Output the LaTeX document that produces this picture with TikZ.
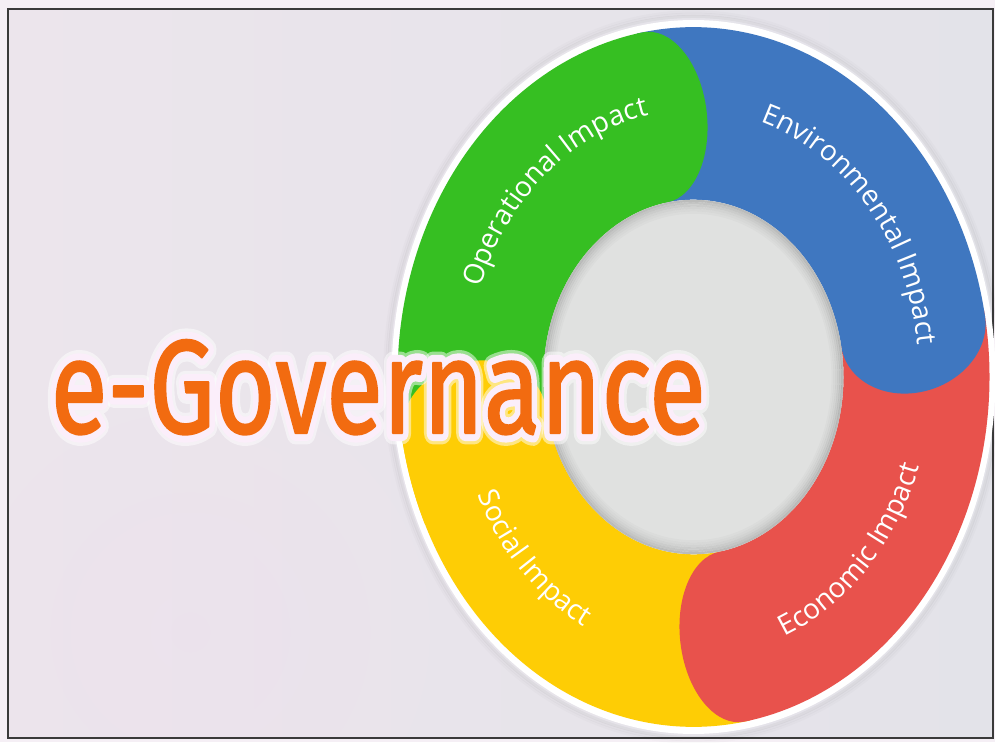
\documentclass[tikz,border=0pt]{standalone}
\usepackage{fontspec}
\setmainfont{Open Sans}
\newfontfamily\titlefont{Fira Sans}[FakeBold=1.6]
\newfontfamily\halofont{Fira Sans}[FakeBold=12]
\newfontfamily\haloouterfont{Fira Sans}[FakeBold=17]
\newfontfamily\labelfont{Open Sans}
\usetikzlibrary{decorations.text,calc}

\definecolor{paperEdge}{HTML}{F5EFF5}
\definecolor{bgA}{HTML}{ECE5EC}
\definecolor{bgB}{HTML}{E3E3E9}
\definecolor{bgPink}{HTML}{EFDFEF}
\definecolor{segGreen}{HTML}{36BF22}
\definecolor{segBlue}{HTML}{3F77C0}
\definecolor{segRed}{HTML}{E8524C}
\definecolor{segYellow}{HTML}{FECD05}
\definecolor{hubGray}{HTML}{E0E1E0}
\definecolor{titleOrange}{HTML}{F26B10}
\definecolor{glowPink}{HTML}{FBEEFA}
\definecolor{frameGray}{HTML}{3A3A3A}

% label font along the ring
\newcommand\labelstyle{\labelfont\fontsize{28}{34}\selectfont}
% the big title, squeezed horizontally by a common factor; #1 is the font switch
\newlength\govnatural
\newcommand\govword[1]{\scalebox{\govratio}[1]{#1\fontsize{133}{140}\selectfont e-Governance}}
% round joins for the stroked halo outlines
\newcommand\roundjoins{\special{pdf:literal direct 1 j 1 J}}

% one band of the ring: #1 colour, #2 angle of the rounded end, #3 angular length
\newcommand\ringseg[3]{%
  \begin{scope}[rotate=#2]
    \fill[#1] (#3:296) arc[start angle=#3, end angle=0, radius=296]
      .. controls (296,-28.7) and (263.3,-52) .. (223,-52)
      .. controls (182.7,-52) and (150,-28.7) .. (150,0)
      arc[start angle=0, end angle=#3, radius=150] -- cycle;
  \end{scope}}

\begin{document}
\settowidth{\govnatural}{\titlefont\fontsize{133}{140}\selectfont e-Governance}
\pgfmathsetmacro\govratio{655pt/\govnatural}
\begin{tikzpicture}[x=1pt,y=1pt,
  seglabel/.style={decorate, decoration={text along path, text align=center, text color=white}}]

\useasboundingbox (0,0) rectangle (995,742);

% paper and framed panel
\fill[paperEdge] (0,0) rectangle (995,742);
\begin{scope}
  \clip (8,4) rectangle (993,733);
  \shade[left color=bgA, right color=bgB] (8,4) rectangle (993,733);
  \shade[inner color=bgPink, outer color=bgA, opacity=0.35] (190,110) circle[radius=240];
\end{scope}
\draw[frameGray, line width=2] (8,4) rectangle (993,733);

% the ring
\begin{scope}[shift={(693.5,365)}, yscale=1.182]
  \foreach \r/\o in {309/0.015,307/0.025,305/0.04}
    \draw[black, opacity=\o, line width=3] (0,0) circle[radius=\r];
  \fill[white] (0,0) circle[radius=302];
  \ringseg{segYellow}{190}{91}
  \ringseg{segRed}{-80}{91}
  \ringseg{segBlue}{10}{91}
  \ringseg{segGreen}{100}{91}
  \ringseg{segYellow}{190}{15}
  % hub with a soft inner shadow
  \fill[hubGray] (0,0) circle[radius=150];
  \foreach \r/\o in {149/0.16,147/0.12,145/0.09,143/0.06,141/0.04,139/0.02}
    \draw[black, opacity=\o, line width=2.2] (0,0) circle[radius=\r];
\end{scope}

% labels following the bands
\path[seglabel, decoration={text={|\labelstyle|Operational Impact}}]
  ($(693.5,365)+(190:226 and 267)$) arc[start angle=190, end angle=67, x radius=226, y radius=267];
\path[seglabel, decoration={text={|\labelstyle|Environmental Impact}}]
  ($(693.5,365)+(102:226 and 267)$) arc[start angle=102, end angle=-18, x radius=226, y radius=267];
\path[seglabel, decoration={text={|\labelstyle|Social Impact}}]
  ($(693.5,365)+(176:238 and 281)$) arc[start angle=176, end angle=276, x radius=238, y radius=281];
\path[seglabel, decoration={text={|\labelstyle|Economic Impact}}]
  ($(693.5,365)+(265:238 and 281)$) arc[start angle=265, end angle=365, x radius=238, y radius=281];

% title with a pale halo behind it
\node[anchor=base west, text=white, opacity=0.5, inner sep=0] (haloOuter) at (50.5,309) {\roundjoins\govword{\haloouterfont}};
\node[anchor=base west, text=glowPink, inner sep=0] (halo) at (50.5,309) {\roundjoins\govword{\halofont}};
\node[anchor=base west, text=titleOrange, inner sep=0] (title) at (50.5,309) {\roundjoins\govword{\titlefont}};

\end{tikzpicture}
\end{document}
